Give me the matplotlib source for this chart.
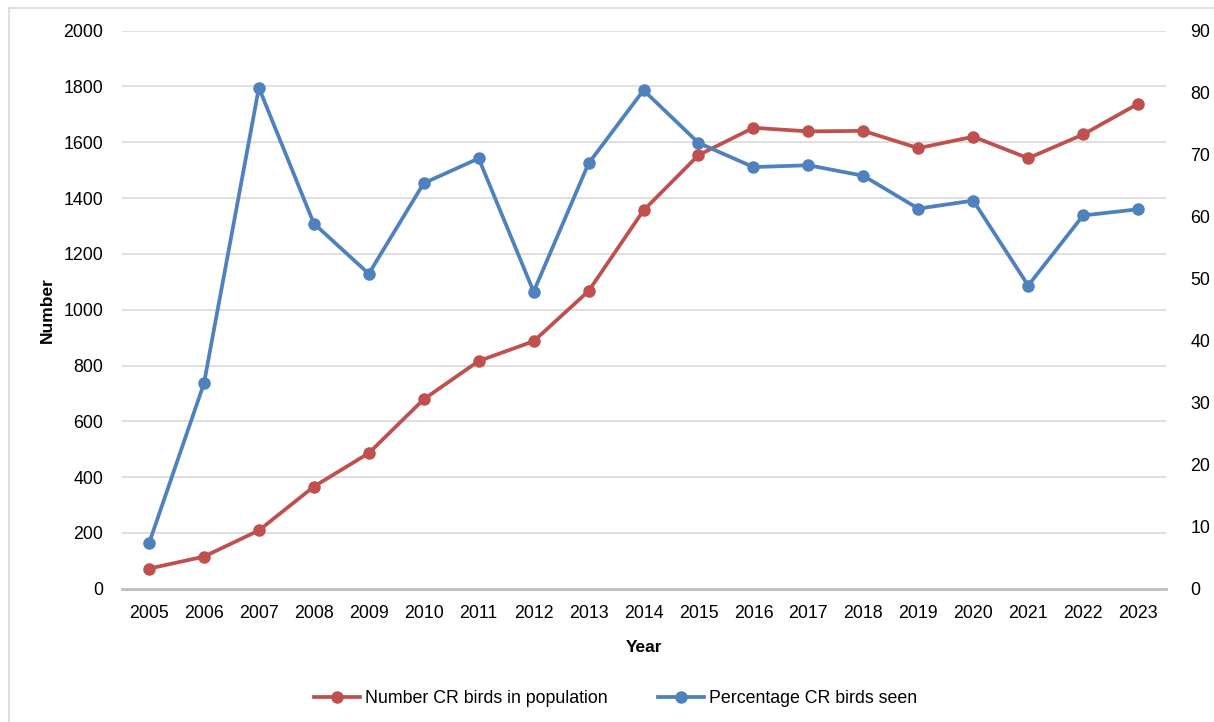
import matplotlib.pyplot as plt
from matplotlib.lines import Line2D

plt.rcParams['font.family'] = ['Liberation Sans', 'DejaVu Sans']

years = ['2005', '2006', '2007', '2008', '2009', '2010', '2011', '2012', '2013', '2014',
         '2015', '2016', '2017', '2018', '2019', '2020', '2021', '2022', '2023']
number_birds = [72, 115, 209, 366, 486, 679, 816, 887, 1067, 1356,
                1554, 1652, 1639, 1641, 1579, 1620, 1543, 1628, 1738]
percent_seen = [7.3, 33.1, 80.8, 58.9, 50.8, 65.4, 69.4, 47.9, 68.6, 80.4,
                71.9, 68.0, 68.3, 66.6, 61.3, 62.6, 48.9, 60.2, 61.2]
left_ticks = [0, 200, 400, 600, 800, 1000, 1200, 1400, 1600, 1800, 2000]
right_ticks = [0, 10, 20, 30, 40, 50, 60, 70, 80, 90]

red = '#C0504D'
blue = '#4F81BD'

fig = plt.figure(figsize=(12.14, 7.22), dpi=100)
ax = fig.add_axes([0.1001, 0.1846, 0.8600, 0.7729])
ax2 = ax.twinx()

x = list(range(len(years)))
ax.plot(x, number_birds, color=red, lw=2.7, marker='o', ms=8, solid_capstyle='round')
ax2.plot(x, percent_seen, color=blue, lw=2.7, marker='o', ms=8, solid_capstyle='round')

ax.set_xlim(-0.5, len(years) - 0.5)
ax.set_ylim(0, 2000)
ax2.set_ylim(0, 90)
ax.set_yticks(left_ticks)
ax2.set_yticks(right_ticks)
ax.set_xticks(x)
ax.set_xticklabels(years)

ax.grid(axis='y', color='#D9D9D9', lw=1.2)
ax.set_axisbelow(True)
for a in (ax, ax2):
    for s in a.spines.values():
        s.set_visible(False)
ax.spines['bottom'].set_visible(True)
ax.spines['bottom'].set_color('#BFBFBF')
ax.spines['bottom'].set_linewidth(2)

ax.tick_params(axis='both', length=0, labelsize=12.8, colors='#000000')
ax.tick_params(axis='y', pad=13)
ax.tick_params(axis='x', pad=12)
ax2.tick_params(axis='y', length=0, labelsize=12.8, pad=18)

ax.set_ylabel('Number', fontsize=12.5, fontweight='bold', labelpad=6)
ax.set_xlabel('Year', fontsize=12.5, fontweight='bold', labelpad=13)

handles = [Line2D([], [], color=red, lw=2.7, marker='o', ms=8),
           Line2D([], [], color=blue, lw=2.7, marker='o', ms=8)]
fig.legend(handles, ['Number CR birds in population', 'Percentage CR birds seen'],
           loc='center', bbox_to_anchor=(0.507, 0.032), ncol=2, frameon=False,
           fontsize=12.8, handlelength=2.6, columnspacing=2.8, handletextpad=0.3)

# light chart-area border (left and top)
fig.add_artist(Line2D([8.5 / 1214, 8.5 / 1214], [0, 1 - 8 / 722], color='#D9D9D9', lw=1.2))
fig.add_artist(Line2D([8.5 / 1214, 1], [1 - 8 / 722, 1 - 8 / 722], color='#D9D9D9', lw=1.2))

fig.savefig('out.png', dpi=100)
